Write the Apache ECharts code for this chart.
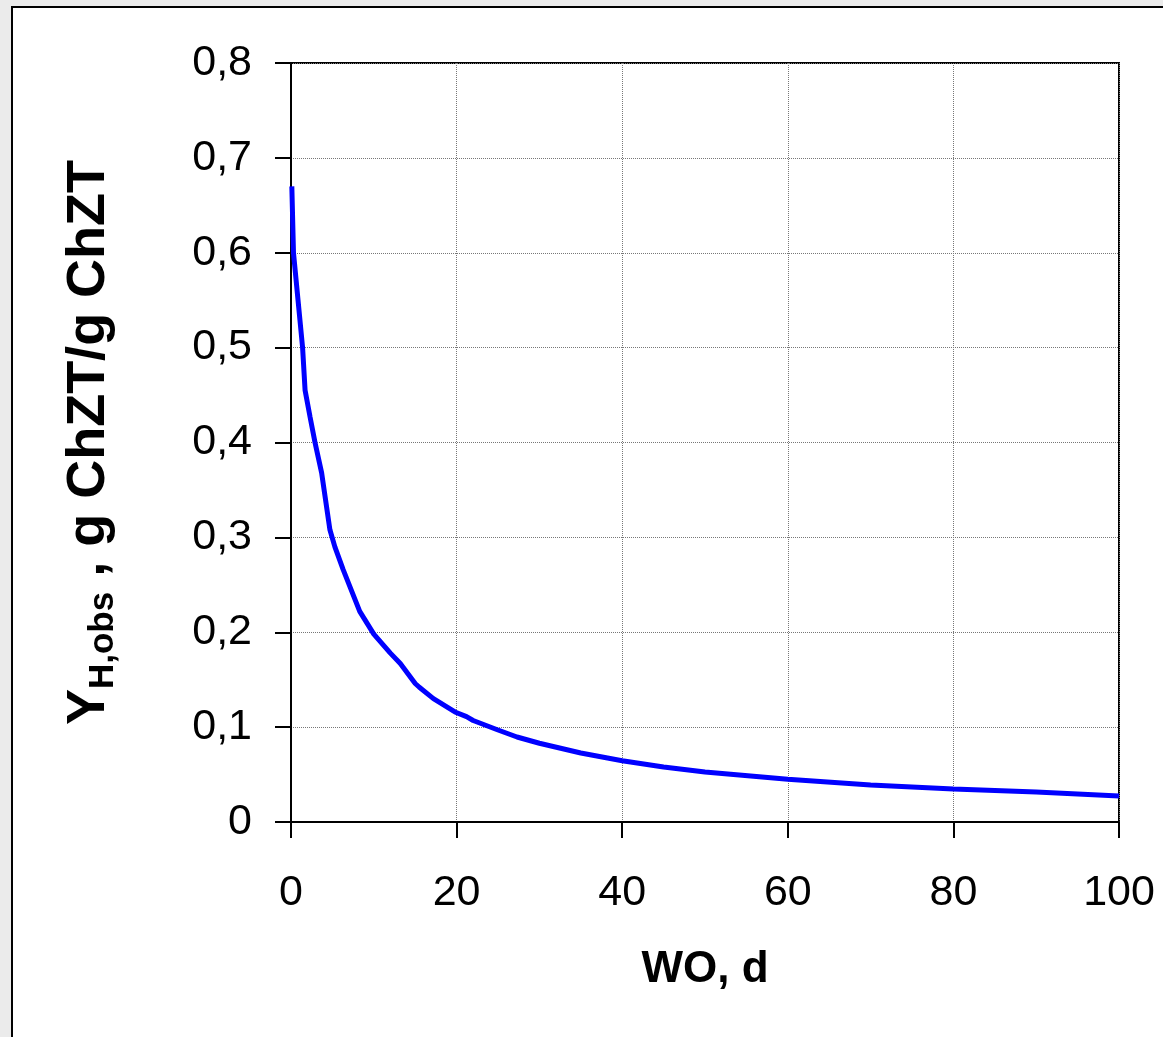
<!DOCTYPE html>
<html>
<head>
<meta charset="utf-8">
<title>Y H,obs vs WO</title>
<script src="https://cdn.jsdelivr.net/npm/echarts@6/dist/echarts.min.js"></script>
<style>
	html, body { margin: 0; padding: 0; background: #ebebeb; overflow: hidden; }
	#frame { position: absolute; left: 11px; top: 6px; width: 1200px; height: 1100px;
		background: #fff; border: 2px solid #000; }
	#chart { position: absolute; left: 0; top: 0; width: 1163px; height: 1037px; }
</style>
</head>
<body>
<div id="frame"></div>
<div id="chart"></div>
<script type="text/javascript">
	// WO, d
	var wo = [0.1, 0.3, 0.85, 1.4, 1.7, 2.3, 2.9, 3.7, 4.7, 5.3, 6.3, 8.3, 10, 12, 13.2, 15,
		15.5, 17.2, 19.8, 21.2, 22, 25, 27.3, 30, 35, 40, 45, 50, 60, 70, 80, 90, 100];
	// Y H,obs, g ChZT/g ChZT
	var yObs = [0.67, 0.6, 0.55, 0.5, 0.455, 0.427, 0.4, 0.368, 0.308, 0.29, 0.266, 0.222, 0.198, 0.178, 0.167, 0.146,
		0.142, 0.130, 0.116, 0.111, 0.107, 0.097, 0.0896, 0.083, 0.0727, 0.0645, 0.058, 0.0527, 0.045, 0.039, 0.0348, 0.0316, 0.0274];

	var points = [];
	for (var i = 0; i < wo.length; i++) {
		points.push([wo[i], yObs[i]]);
	}

	var chart = echarts.init(document.getElementById('chart'));
	var fontFam = 'Liberation Sans, Arial, sans-serif';
	var option = {
		backgroundColor: 'transparent',
		animation: false,
		grid: {
			left: 291, right: 44, top: 63, bottom: 215,
			show: true, borderColor: '#000', borderWidth: 2, backgroundColor: 'transparent'
		},
		xAxis: {
			type: 'value',
			min: 0, max: 100, interval: 20,
			name: 'WO, d',
			nameLocation: 'middle',
			nameGap: 126,
			nameTextStyle: { fontFamily: fontFam, fontSize: 44, fontWeight: 'bold', color: '#000' },
			axisLine: { show: true, lineStyle: { color: '#000', width: 2 } },
			axisTick: { show: true, length: 16, lineStyle: { color: '#000', width: 2 } },
			axisLabel: { margin: 50, fontFamily: fontFam, fontSize: 43, color: '#000' },
			splitLine: { show: true, lineStyle: { color: '#777', width: 1, type: [1, 1] } }
		},
		yAxis: {
			type: 'value',
			min: 0, max: 0.8, interval: 0.1,
			name: '{b|Y}{s|H,obs}{b| , g ChZT/g ChZT}',
			nameLocation: 'middle',
			nameRotate: 90,
			nameGap: 175,
			nameTextStyle: {
				fontFamily: fontFam, fontWeight: 'bold', color: '#000',
				rich: {
					b: { fontFamily: fontFam, fontSize: 54, fontWeight: 'bold', color: '#000', lineHeight: 54, verticalAlign: 'top' },
					s: { fontFamily: fontFam, fontSize: 35, fontWeight: 'bold', color: '#000', lineHeight: 35, verticalAlign: 'top', padding: [24, 0, 0, 0] }
				}
			},
			axisLine: { show: true, lineStyle: { color: '#000', width: 2 } },
			axisTick: { show: true, length: 16, lineStyle: { color: '#000', width: 2 } },
			axisLabel: {
				margin: 39, fontFamily: fontFam, fontSize: 43, color: '#000',
				formatter: function (v) { return v === 0 ? '0' : v.toFixed(1).replace('.', ','); }
			},
			splitLine: { show: true, lineStyle: { color: '#777', width: 1, type: [1, 1] } }
		},
		series: [{
			type: 'line',
			data: points,
			showSymbol: false,
			smooth: false,
			lineStyle: { color: '#0000ff', width: 5 }
		}]
	};
	chart.setOption(option);
</script>
</body>
</html>
